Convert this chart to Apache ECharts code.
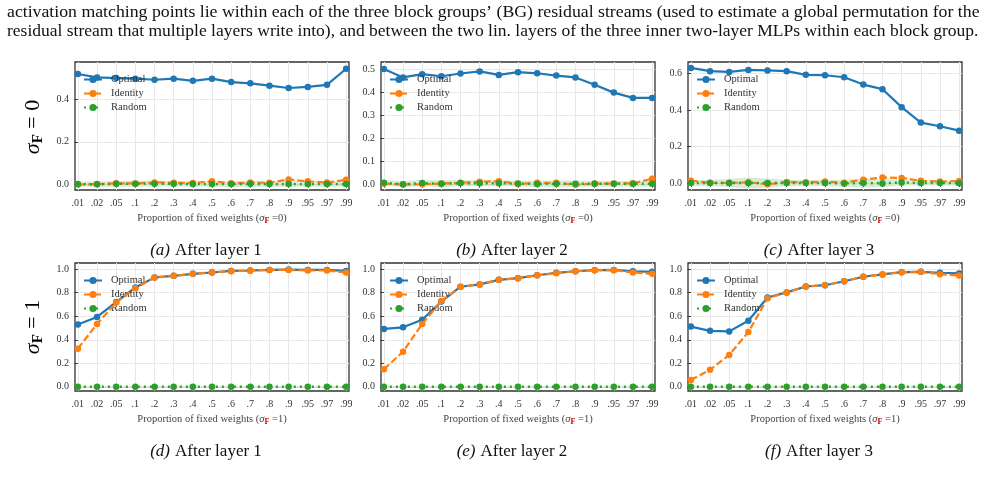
<!DOCTYPE html>
<html>
<head>
<meta charset="utf-8">
<script src="https://cdn.jsdelivr.net/npm/echarts@6/dist/echarts.min.js"></script>
<style>
html,body{margin:0;padding:0;background:#fff}
#chart{width:985px;height:477px}
</style>
</head>
<body>
<div id="chart"></div>
<script>
// x categories: proportion of fixed weights
var fixedProps = ['.01','.02','.05','.1','.2','.3','.4','.5','.6','.7','.8','.9','.95','.97','.99'];

// sigma_F = 0
var optA = [0.521,0.505,0.502,0.499,0.494,0.499,0.489,0.499,0.483,0.477,0.466,0.455,0.460,0.470,0.546];
var idA  = [-0.002,0.000,0.004,0.003,0.008,0.006,0.005,0.013,0.004,0.007,0.006,0.022,0.013,0.007,0.020];
var rndA = [0.000,-0.001,0.001,0.002,0.002,0.001,0.000,0.000,0.000,0.001,0.000,0.000,0.000,0.000,0.000];

var optB = [0.500,0.463,0.477,0.468,0.480,0.489,0.474,0.486,0.481,0.471,0.463,0.431,0.397,0.374,0.374];
var idB  = [0.002,-0.002,-0.001,0.002,0.005,0.010,0.012,0.000,0.005,0.005,-0.003,0.002,0.002,0.003,0.023];
var rndB = [0.005,-0.001,0.004,0.001,0.004,0.003,0.003,0.002,0.000,0.001,0.001,0.001,0.001,0.001,0.001];

var optC = [0.629,0.611,0.607,0.618,0.615,0.611,0.591,0.589,0.578,0.538,0.513,0.415,0.331,0.311,0.287];
var idC  = [0.015,0.003,0.003,0.006,-0.005,0.008,0.006,0.010,0.004,0.020,0.032,0.030,0.014,0.010,0.013];
var rndC = [0.002,0.002,0.002,0.002,0.002,0.002,0.002,0.002,0.000,0.002,0.000,0.005,0.002,0.002,0.001];

// sigma_F = 1
var optD = [0.530,0.594,0.721,0.845,0.930,0.944,0.961,0.972,0.986,0.989,0.994,0.997,0.994,0.994,0.986];
var idD  = [0.324,0.535,0.718,0.839,0.930,0.944,0.961,0.975,0.983,0.989,0.994,0.994,0.989,0.989,0.972];
var optE = [0.492,0.506,0.570,0.725,0.851,0.871,0.910,0.924,0.949,0.969,0.983,0.992,0.994,0.983,0.978];
var idE  = [0.149,0.298,0.534,0.730,0.851,0.871,0.910,0.924,0.949,0.966,0.983,0.992,0.992,0.972,0.961];
var optF = [0.512,0.476,0.471,0.562,0.759,0.803,0.853,0.864,0.898,0.936,0.956,0.975,0.978,0.970,0.964];
var idF  = [0.058,0.144,0.271,0.465,0.753,0.803,0.853,0.864,0.898,0.936,0.956,0.975,0.978,0.958,0.947];
var rndRow1 = [0,0,0,0,0,0,0,0,0,0,0,0,0,0,0];

// spread of the random baseline (half width of shaded band)
var bandRow0 = [0.013,0.013,0.014,0.015,0.014,0.013,0.013,0.013,0.014,0.015,0.014,0.013,0.013,0.013,0.013];
var bandC    = [0.015,0.018,0.022,0.030,0.024,0.018,0.016,0.016,0.020,0.024,0.020,0.016,0.014,0.014,0.014];
var bandRow1 = [0.007,0.007,0.007,0.007,0.007,0.007,0.007,0.007,0.007,0.007,0.007,0.007,0.007,0.007,0.007];

var ticks0A = [0, 0.2, 0.4];
var ticks0B = [0, 0.1, 0.2, 0.3, 0.4, 0.5];
var ticks0C = [0, 0.2, 0.4, 0.6];
var ticks1  = [0, 0.2, 0.4, 0.6, 0.8, 1.0];

var captions = ['a','b','c','d','e','f'];
var layerNames = ['After layer 1','After layer 2','After layer 3','After layer 1','After layer 2','After layer 3'];

var panels = [
    {opt: optA, id: idA, rnd: rndA, band: bandRow0, ticks: ticks0A, min: -0.028, max: 0.578, sig: 0, left: 75,  top: 62,  width: 274, height: 128},
    {opt: optB, id: idB, rnd: rndB, band: bandRow0, ticks: ticks0B, min: -0.026, max: 0.530, sig: 0, left: 381, top: 62,  width: 274, height: 128},
    {opt: optC, id: idC, rnd: rndC, band: bandC,    ticks: ticks0C, min: -0.036, max: 0.661, sig: 0, left: 688, top: 62,  width: 274, height: 128},
    {opt: optD, id: idD, rnd: rndRow1, band: bandRow1, ticks: ticks1, min: -0.036, max: 1.053, sig: 1, left: 75,  top: 263, width: 274, height: 128},
    {opt: optE, id: idE, rnd: rndRow1, band: bandRow1, ticks: ticks1, min: -0.036, max: 1.053, sig: 1, left: 381, top: 263, width: 274, height: 128},
    {opt: optF, id: idF, rnd: rndRow1, band: bandRow1, ticks: ticks1, min: -0.036, max: 1.053, sig: 1, left: 688, top: 263, width: 274, height: 128}
];

var BLUE = '#1f77b4', ORANGE = '#ff7f0e', GREEN = '#2ca02c';
var SERIF = 'Liberation Serif';
var xIdx = fixedProps.map(function(d, i){ return i; });

function pairs(arr){
    return arr.map(function(v, i){ return [i, v]; });
}

var chart = echarts.init(document.getElementById('chart'), null, {renderer: 'canvas'});

var grids = [], xAxes = [], yAxes = [], series = [], legends = [], titles = [];

panels.forEach(function(p, k){
    grids.push({left: p.left, top: p.top, width: p.width, height: p.height,
        show: true, borderColor: '#333', borderWidth: 1.3, backgroundColor: 'transparent'});

    xAxes.push({
        type: 'value', gridIndex: k, min: -0.15, max: 14.15,
        axisLine: {show: false},
        axisTick: {show: true, length: 3.5, lineStyle: {color: '#333'}, customValues: xIdx},
        axisLabel: {customValues: xIdx, margin: 8, fontFamily: SERIF, fontSize: 10, color: '#333',
            formatter: function(v){ return fixedProps[Math.round(v)]; }},
        splitLine: {show: true, lineStyle: {color: '#e8e8e8', width: 1}},
        name: 'Proportion of fixed weights ({s|σ}{f|F}{t| =' + p.sig + ')}',
        nameLocation: 'middle', nameGap: 22,
        nameTextStyle: {fontFamily: SERIF, fontSize: 10.5, color: '#444',
            rich: {
                s: {fontFamily: SERIF, fontSize: 10.5, fontStyle: 'italic', color: '#444'},
                f: {fontFamily: SERIF, fontSize: 8, fontWeight: 'bold', color: '#c00000', padding: [5, 0, 0, 0]},
                t: {fontFamily: SERIF, fontSize: 10.5, color: '#444'}
            }}
    });

    yAxes.push({
        type: 'value', gridIndex: k, min: p.min, max: p.max,
        axisLine: {show: false},
        axisTick: {show: true, length: 3.5, lineStyle: {color: '#333'}, customValues: p.ticks},
        axisLabel: {customValues: p.ticks, margin: 6, fontFamily: SERIF, fontSize: 10, color: '#333',
            formatter: function(v){ return v.toFixed(1); }},
        splitLine: {show: true, lineStyle: {color: '#e8e8e8', width: 1}}
    });

    // shaded spread of the random baseline
    series.push({
        type: 'custom', xAxisIndex: k, yAxisIndex: k, silent: true, z: 1,
        data: [[0, 0]],
        renderItem: function(params, api){
            var up = [], dn = [];
            for (var i = 0; i < p.rnd.length; i++) {
                up.push(api.coord([i, p.rnd[i] + p.band[i]]));
                dn.unshift(api.coord([i, p.rnd[i] - p.band[i]]));
            }
            return {type: 'polygon', shape: {points: up.concat(dn)},
                style: {fill: GREEN, opacity: 0.2}};
        }
    });
    series.push({
        name: 'Optimal', type: 'line', xAxisIndex: k, yAxisIndex: k, data: pairs(p.opt),
        symbol: 'circle', symbolSize: 6.5, itemStyle: {color: BLUE},
        lineStyle: {color: BLUE, width: 2.2}, z: 3
    });
    series.push({
        name: 'Identity', type: 'line', xAxisIndex: k, yAxisIndex: k, data: pairs(p.id),
        symbol: 'circle', symbolSize: 6.5, itemStyle: {color: ORANGE},
        lineStyle: {color: ORANGE, width: 2.2, type: [7, 3]}, z: 4
    });
    series.push({
        name: 'Random', type: 'line', xAxisIndex: k, yAxisIndex: k, data: pairs(p.rnd),
        symbol: 'circle', symbolSize: 6.5, itemStyle: {color: GREEN},
        lineStyle: {color: GREEN, width: 2.4, type: [2, 4]}, z: 5
    });

    legends.push({
        data: ['Optimal', 'Identity', 'Random'], orient: 'vertical',
        left: p.left + 8, top: p.top + 11, padding: 0,
        itemWidth: 18, itemHeight: 9, itemGap: 1,
        selectedMode: false, backgroundColor: 'transparent',
        textStyle: {fontFamily: SERIF, fontSize: 10.5, color: '#333', lineHeight: 13, padding: [0, 0, 0, 4]}
    });

    titles.push({
        text: '{i|(' + captions[k] + ')} {r|' + layerNames[k] + '}',
        left: p.left + p.width / 2 - 11, top: p.top + 175, textAlign: 'center',
        textStyle: {fontWeight: 'normal', rich: {
            i: {fontFamily: SERIF, fontSize: 17, fontStyle: 'italic', fontWeight: 'normal', color: '#111'},
            r: {fontFamily: SERIF, fontSize: 17, fontWeight: 'normal', color: '#111'}
        }}
    });
});

var rowRich = {
    s: {fontFamily: SERIF, fontSize: 22, fontStyle: 'italic', color: '#111'},
    f: {fontFamily: SERIF, fontSize: 15, fontWeight: 'bold', color: '#c00000', padding: [10, 0, 0, 0]},
    e: {fontFamily: SERIF, fontSize: 22, color: '#111'}
};

var headerLines = [
    'activation matching points lie within each of the three block groups\u2019 (BG) residual streams (used to estimate a global permutation for the',
    'residual stream that multiple layers write into), and between the two lin. layers of the three inner two-layer MLPs within each block group.'
];

chart.setOption({
    backgroundColor: '#fff',
    animation: false,
    title: titles,
    grid: grids,
    xAxis: xAxes,
    yAxis: yAxes,
    legend: legends,
    series: series,
    graphic: [
        {type: 'text', left: 7, top: 3, style: {text: headerLines[0], font: '17.75px "Liberation Serif"', fill: '#111'}},
        {type: 'text', left: 7, top: 22, style: {text: headerLines[1], font: '17.5px "Liberation Serif"', fill: '#111'}},
        {type: 'text', x: 33, y: 127, rotation: Math.PI / 2,
            style: {text: '{s|σ}{f|F}{e| = 0}', rich: rowRich, align: 'center', verticalAlign: 'middle'}},
        {type: 'text', x: 33, y: 327, rotation: Math.PI / 2,
            style: {text: '{s|σ}{f|F}{e| = 1}', rich: rowRich, align: 'center', verticalAlign: 'middle'}}
    ]
});
</script>
</body>
</html>
